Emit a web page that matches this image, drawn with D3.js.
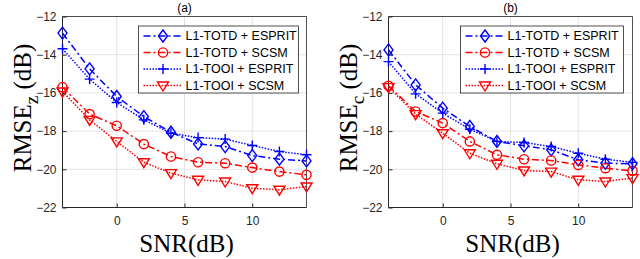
<!DOCTYPE html>
<html>
<head>
<meta charset="utf-8">
<script src="https://cdn.jsdelivr.net/npm/d3@7"></script>
<style>
  body { margin: 0; background: #fff; }
  svg { display: block; }
</style>
</head>
<body>
<svg id="chart" width="640" height="259"></svg>
<script>
// SNR values shared by both panels
var snr = [-4, -2, 0, 2, 4, 6, 8, 10, 12, 14];

// panel (a): RMSE_z
var a_totd_esprit = [-12.87, -14.74, -16.19, -17.24, -18.06, -18.67, -18.81, -19.28, -19.47, -19.56];
var a_totd_scsm   = [-15.70, -17.11, -17.72, -18.68, -19.33, -19.63, -19.68, -19.91, -20.12, -20.29];
var a_tooi_esprit = [-13.69, -15.28, -16.50, -17.41, -18.11, -18.34, -18.42, -18.75, -19.07, -19.24];
var a_tooi_scsm   = [-15.93, -17.41, -18.54, -19.63, -20.20, -20.55, -20.64, -20.99, -21.07, -20.90];

// panel (b): RMSE_c
var b_totd_esprit = [-13.75, -15.58, -16.80, -17.76, -18.54, -18.77, -18.98, -19.50, -19.68, -19.71];
var b_totd_scsm   = [-15.63, -16.97, -17.58, -18.54, -19.24, -19.47, -19.54, -19.77, -19.94, -20.08];
var b_tooi_esprit = [-14.36, -16.05, -17.06, -17.90, -18.54, -18.60, -18.81, -19.16, -19.47, -19.64];
var b_tooi_scsm   = [-15.70, -17.11, -18.11, -19.16, -19.71, -20.06, -20.12, -20.55, -20.64, -20.46];

var series_names = ["L1-TOTD + ESPRIT", "L1-TOTD + SCSM", "L1-TOOI + ESPRIT", "L1-TOOI + SCSM"];
var x_ticks = [0, 5, 10];
var y_ticks = [-12, -14, -16, -18, -20, -22];

// style per series: colour, dash, marker
var styles = [
  { color: "#0000ff", dash: "7,3,2,3", marker: "diamond" },
  { color: "#ff0000", dash: "7,3,2,3", marker: "circle" },
  { color: "#0000ff", dash: "1.5,1.5", marker: "plus" },
  { color: "#ff0000", dash: "1.5,1.5", marker: "triangle" }
];

var svg = d3.select("#chart");

// draw one marker at (0,0) inside group g
function drawMarker(g, type, color) {
  if (type == "diamond") {
    g.append("path").attr("d", "M0,-6L4.5,0L0,6L-4.5,0Z")
      .attr("fill", "none").attr("stroke", color).attr("stroke-width", 1.4);
  } else if (type == "circle") {
    g.append("circle").attr("r", 4.6)
      .attr("fill", "none").attr("stroke", color).attr("stroke-width", 1.4);
  } else if (type == "plus") {
    g.append("path").attr("d", "M-5,0H5M0,-5V5")
      .attr("fill", "none").attr("stroke", color).attr("stroke-width", 1.4);
  } else if (type == "triangle") {
    g.append("path").attr("d", "M-5.5,-3.5L5.5,-3.5L0,5.5Z")
      .attr("fill", "none").attr("stroke", color).attr("stroke-width", 1.4);
  }
}

function drawPanel(opts) {
  var x = d3.scaleLinear().domain([-4, 14]).range([opts.left, opts.right]);
  var y = d3.scaleLinear().domain([-22, -12]).range([207.5, 16.5]);

  var g = svg.append("g");

  // grid
  g.selectAll("line.gx").data(x_ticks).enter().append("line")
    .attr("x1", function(d) { return x(d); }).attr("x2", function(d) { return x(d); })
    .attr("y1", y(-12)).attr("y2", y(-22))
    .attr("stroke", "#e3e3e3").attr("stroke-width", 1);
  g.selectAll("line.gy").data(y_ticks).enter().append("line")
    .attr("x1", opts.left).attr("x2", opts.right)
    .attr("y1", function(d) { return y(d); }).attr("y2", function(d) { return y(d); })
    .attr("stroke", "#e3e3e3").attr("stroke-width", 1);

  // axes
  var xAxis = d3.axisBottom(x).tickValues(x_ticks).tickSize(-4).tickPadding(9).tickFormat(d3.format("d"));
  var yAxis = d3.axisLeft(y).tickValues(y_ticks).tickSize(-4).tickPadding(6).tickFormat(d3.format("d"));
  var gx = g.append("g").attr("transform", "translate(0," + y(-22) + ")").call(xAxis);
  var gy = g.append("g").attr("transform", "translate(" + opts.left + ",0)").call(yAxis);
  [gx, gy].forEach(function(a) {
    a.selectAll("path").attr("stroke", "#262626").attr("stroke-width", 1);
    a.selectAll("line").attr("stroke", "#262626");
    a.selectAll("text").attr("fill", "#262626")
      .style("font-family", "'Liberation Sans', Arial, sans-serif").style("font-size", "12px");
  });
  gx.select("path").attr("d", "M" + opts.left + ",0H" + opts.right);
  gy.select("path").attr("d", "M0," + y(-12) + "V" + y(-22));

  // top / right box
  g.append("path")
    .attr("d", "M" + opts.left + "," + y(-12) + "H" + opts.right + "V" + y(-22))
    .attr("fill", "none").attr("stroke", "#262626").attr("stroke-width", 0.8);

  // lines and markers
  opts.data.forEach(function(vals, si) {
    var st = styles[si];
    var pts = snr.map(function(s, i) { return [s, vals[i]]; });
    var line = d3.line().x(function(d) { return x(d[0]); }).y(function(d) { return y(d[1]); });
    g.append("path").datum(pts).attr("d", line)
      .attr("fill", "none").attr("stroke", st.color).attr("stroke-width", 1.5)
      .attr("stroke-dasharray", st.dash);
    pts.forEach(function(p) {
      var m = g.append("g").attr("transform", "translate(" + x(p[0]) + "," + y(p[1]) + ")");
      drawMarker(m, st.marker, st.color);
    });
  });

  // title
  g.append("text").attr("x", (opts.left + opts.right) / 2).attr("y", 12)
    .attr("text-anchor", "middle").attr("fill", "#000")
    .style("font-family", "'Liberation Sans', Arial, sans-serif").style("font-size", "12px")
    .text(opts.title);

  // x label
  g.append("text").attr("x", (opts.left + opts.right) / 2 + 2).attr("y", 252)
    .attr("text-anchor", "middle").attr("fill", "#000")
    .style("font-family", "'Liberation Serif', 'Times New Roman', serif").style("font-size", "25px")
    .text("SNR(dB)");

  // y label
  var yl = g.append("text")
    .attr("transform", "translate(" + (opts.left - 32) + ",108) rotate(-90)")
    .attr("text-anchor", "middle").attr("fill", "#000")
    .style("font-family", "'Liberation Serif', 'Times New Roman', serif").style("font-size", "25px");
  yl.append("tspan").text("RMSE");
  yl.append("tspan").attr("dy", 7).style("font-size", "19px").text(opts.sub);
  yl.append("tspan").attr("dy", -7).text(" (dB)");

  // legend
  var lx = opts.legendX, ly = 26, lw = opts.legendW, lh = 67;
  var leg = g.append("g").attr("transform", "translate(" + lx + "," + ly + ")");
  leg.append("rect").attr("width", lw).attr("height", lh)
    .attr("fill", "#fff").attr("stroke", "#262626").attr("stroke-width", 0.8);
  var items = leg.selectAll("g.item").data(series_names).enter().append("g")
    .attr("class", "item")
    .attr("transform", function(d, i) { return "translate(0," + (10 + i * 16.5) + ")"; });
  items.append("line").attr("x1", 5).attr("x2", 44).attr("y1", 0).attr("y2", 0)
    .attr("stroke", function(d, i) { return styles[i].color; })
    .attr("stroke-width", 1.5)
    .attr("stroke-dasharray", function(d, i) { return styles[i].dash; });
  items.each(function(d, i) {
    var m = d3.select(this).append("g").attr("transform", "translate(24.5,0)");
    drawMarker(m, styles[i].marker, styles[i].color);
  });
  items.append("text").attr("x", 47).attr("y", 0).attr("dy", ".35em")
    .attr("fill", "#000")
    .style("font-family", "'Liberation Sans', Arial, sans-serif").style("font-size", "12.5px")
    .text(function(d) { return d; });
}

drawPanel({ left: 62.5, right: 306.5, title: "(a)", sub: "z", legendX: 138.5, legendW: 160,
  data: [a_totd_esprit, a_totd_scsm, a_tooi_esprit, a_tooi_scsm] });
drawPanel({ left: 388.5, right: 632.5, title: "(b)", sub: "c", legendX: 460.5, legendW: 163,
  data: [b_totd_esprit, b_totd_scsm, b_tooi_esprit, b_tooi_scsm] });
</script>
</body>
</html>
